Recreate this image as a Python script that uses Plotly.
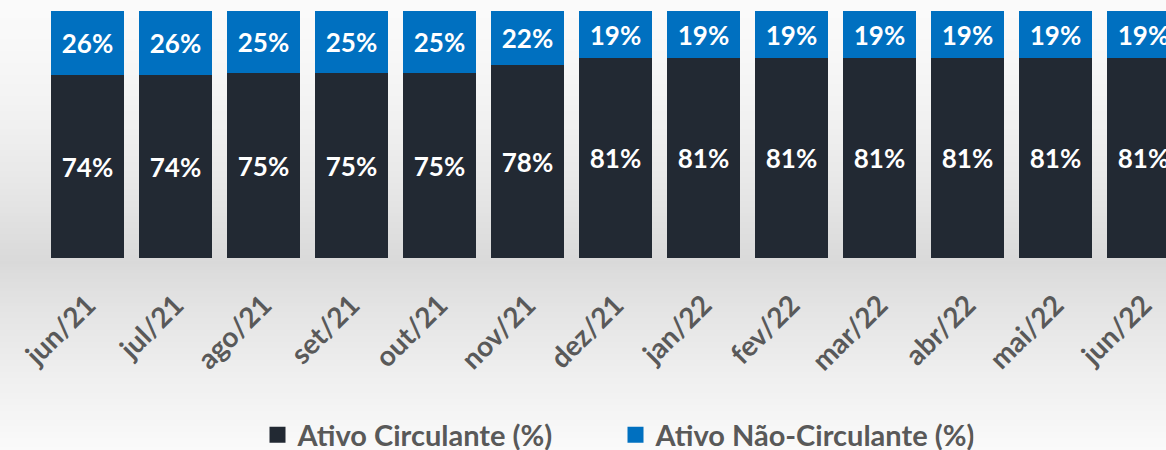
import plotly.graph_objects as go

categories = ["jun/21", "jul/21", "ago/21", "set/21", "out/21", "nov/21", "dez/21",
              "jan/22", "fev/22", "mar/22", "abr/22", "mai/22", "jun/22"]
ativo_circulante = [74, 74, 75, 75, 75, 78, 81, 81, 81, 81, 81, 81, 81]
ativo_nao_circulante = [26, 26, 25, 25, 25, 22, 19, 19, 19, 19, 19, 19, 19]
series_names = ["Ativo Circulante (%)", "Ativo Não-Circulante (%)"]

DARK = "#222933"
BLUE = "#0070C0"
GRAY_TXT = "#595959"
FONT = "Lato"

W, H = 1166, 450
TOP, BOTTOM = 11, 258  # plot area pixel rows

fig = go.Figure()
for vals, name, col in [(ativo_circulante, series_names[0], DARK),
                        (ativo_nao_circulante, series_names[1], BLUE)]:
    fig.add_trace(go.Bar(
        x=categories, y=vals, name=name, showlegend=False, legendgroup=name,
        marker=dict(color=col, line=dict(width=0)),
        text=[f"{v}%" for v in vals], textposition="inside",
        insidetextanchor="middle", textangle=0, constraintext="none",
        textfont=dict(family=FONT, size=26, color="white", weight="bold"),
        width=0.83,
    ))
# legend entries with larger square keys
for name, col in [(series_names[0], DARK), (series_names[1], BLUE)]:
    fig.add_trace(go.Scatter(
        x=[None], y=[None], mode="markers", name=name, legendgroup=name,
        marker=dict(symbol="square", size=19, color=col, line=dict(width=0)),
    ))

# background vertical gradient (light -> gray near axis -> light)
def bg_color(p):
    peak = 262.0
    if p <= peak:
        t = p / peak
        v = 250 - (250 - 217) * t ** 1.6
    else:
        t = (p - peak) / (H - peak)
        v = 217 + (250 - 217) * min(1.0, t ** 0.8)
    v = int(round(v))
    return f"rgb({v},{v},{v})"

shapes = []
step = 3
ph = BOTTOM - TOP
for p in range(0, H + step, step):
    y0 = (BOTTOM - (p + step)) / ph
    y1 = (BOTTOM - p) / ph
    c = bg_color(min(H, p + step / 2))
    shapes.append(dict(type="rect", xref="paper", yref="paper", x0=-0.01, x1=1.01,
                       y0=y0, y1=y1, fillcolor=c, line=dict(width=0), layer="below"))

fig.update_layout(
    width=W, height=H,
    margin=dict(l=0, r=0, t=TOP, b=H - BOTTOM, pad=0, autoexpand=False),
    barmode="stack",
    bargap=0,
    paper_bgcolor="rgba(0,0,0,0)",
    plot_bgcolor="rgba(0,0,0,0)",
    shapes=shapes,
    showlegend=True,
    legend=dict(orientation="h", x=(279.5 - 22) / W, xanchor="left",
                y=(BOTTOM - 435) / ph, yanchor="middle", bgcolor="rgba(0,0,0,0)",
                font=dict(family=FONT, size=29, color=GRAY_TXT, weight="bold"),
                traceorder="normal", entrywidth=313, itemwidth=30),
    xaxis=dict(range=[-87.5 / 88, (W - 87.5) / 88], showgrid=False, zeroline=False,
               showline=False, ticks="", tickangle=-45,
               tickfont=dict(family=FONT, size=28, color=GRAY_TXT, weight="bold"),
               ticklabelstandoff=24),
    yaxis=dict(range=[0, 100], visible=False, showgrid=False, zeroline=False),
    font=dict(family=FONT),
)

fig.write_html("out.html", config={"displayModeBar": False},
               post_script="document.body.style.margin='0';document.body.style.padding='0';document.body.style.background='#f7f7f7';")
